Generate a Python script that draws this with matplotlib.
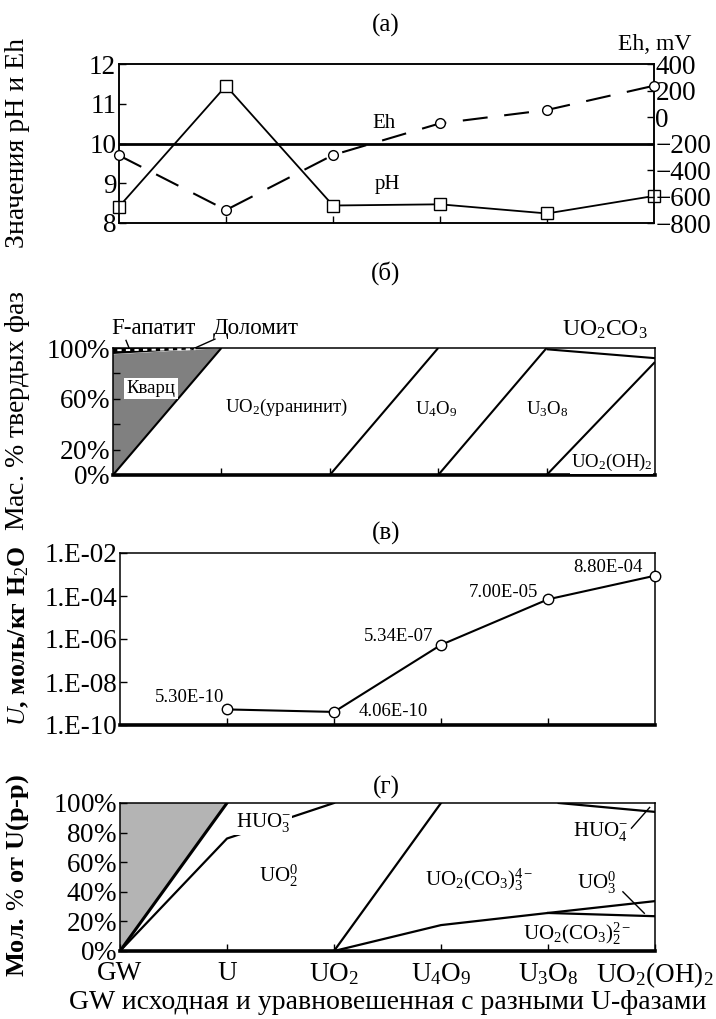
import matplotlib
matplotlib.use("Agg")
import matplotlib.pyplot as plt
import numpy as np

plt.rcParams['font.family'] = ['Liberation Serif', 'DejaVu Serif']
plt.rcParams['mathtext.fontset'] = 'custom'
plt.rcParams['mathtext.rm'] = 'Liberation Serif'
plt.rcParams['mathtext.it'] = 'Liberation Serif:italic'
plt.rcParams['mathtext.bf'] = 'Liberation Serif:bold'
plt.rcParams['axes.unicode_minus'] = True

# ---------------- data ----------------
categories = ['GW', 'U', 'UO$_2$', 'U$_4$O$_9$', 'U$_3$O$_8$', 'UO$_2$(OH)$_2$']
cat_x = [0, 1, 2, 3, 4, 5]

# panel (a)
ph_values = [8.41, 11.45, 8.44, 8.47, 8.24, 8.68]
eh_values = [-290, -702, -287, -48, 53, 236]
ph_ref = 10
ph_ticks = [8, 9, 10, 11, 12]
eh_ticks = [-800, -600, -400, -200, 0, 200, 400]

# panel (б) - solid phases, mass %
quartz_x = [0, 0, 0.94, 1.0]
quartz_y = [0, 95, 99.6, 100]
dolomite_x = [0, 0, 0.94]
dolomite_y = [95, 100, 100]
apatite_x = [0.04, 0.76]
apatite_y = [98.3, 99.0]
b_bounds = [
    ([0, 1], [0, 100]),
    ([2, 3], [0, 100]),
    ([3, 4], [0, 100]),
    ([4, 5], [0, 89]),
    ([4, 5], [99, 92]),
]
b_pct_ticks = [0, 20, 40, 60, 80, 100]
b_pct_labels = [0, 20, 60, 100]

# panel (в) - dissolved U
u_x = [1, 2, 3, 4, 5]
u_conc = [5.30e-10, 4.06e-10, 5.34e-07, 7.00e-05, 8.80e-04]
u_ticks = [1e-10, 1e-8, 1e-6, 1e-4, 1e-2]
u_tick_labels = ['1.E-10', '1.E-08', '1.E-06', '1.E-04', '1.E-02']

# panel (г) - aqueous species, mol %
grey_x = [0, 0, 1]
grey_y = [0, 100, 100]
g_thick = ([0, 1], [0, 100])
g_bounds = [
    ([0, 1, 2], [0, 76, 100]),
    ([2, 3], [0, 100]),
    ([2, 3, 4, 5], [0, 17.5, 25.7, 33.7]),
    ([4, 5], [25.7, 23.5]),
    ([4.1, 5], [100, 94]),
]
g_pct_ticks = [0, 20, 40, 60, 80, 100]

# ---------------- figure ----------------
W, H = 716, 1019
fig = plt.figure(figsize=(W / 100, H / 100), dpi=100)


def rect(l, t, r, b):
    return [l / W, 1 - b / H, (r - l) / W, (b - t) / H]


ax_a = fig.add_axes(rect(119, 64, 654, 223))
ax_b = fig.add_axes(rect(113, 348, 655, 475))
ax_c = fig.add_axes(rect(120, 553, 655, 725))
ax_d = fig.add_axes(rect(120, 803, 655, 951))

TICK_FS = 19.5
LAB_FS = 13.5
YLAB_FS = 20
TITLE_FS = 18
SPINE_LW = 1.1

for ax in (ax_a, ax_b, ax_c, ax_d):
    ax.set_xlim(0, 5)
    ax.set_xticks(cat_x[1:5])
    ax.tick_params(direction='in', length=5, width=1, labelsize=TICK_FS, pad=2)
    for s in ax.spines.values():
        s.set_linewidth(SPINE_LW)
    ax.tick_params(axis='x', labelbottom=False)


def pct_lbl(v):
    return f"{v}$\\it{{\\%}}$"

# ---- panel (a)
ax_a.plot(cat_x, ph_values, color='black', lw=1.3, marker='s', markersize=8,
          markerfacecolor='white', markeredgecolor='black', markeredgewidth=1, clip_on=False, zorder=4)
ax_a.axhline(ph_ref, color='black', lw=2.0, zorder=2)
ax_a.set_ylim(8, 12)
ax_a.set_yticks(ph_ticks)
ax_a.set_yticklabels([str(t) for t in ph_ticks])
ax_a2 = ax_a.twinx()
ax_a2.set_ylim(-800, 400)
ax_a2.plot(cat_x, eh_values, color='black', lw=1.5, dashes=(12, 8), marker='o', markersize=7,
           markerfacecolor='white', markeredgecolor='black', markeredgewidth=1, clip_on=False, zorder=4)
ax_a2.set_yticks(eh_ticks)
ax_a2.set_yticklabels([str(t).replace('-', '\u2212') for t in eh_ticks])
ax_a2.tick_params(direction='in', length=5, width=1, labelsize=TICK_FS, pad=1)
for s in ax_a2.spines.values():
    s.set_linewidth(SPINE_LW)
ax_a.text(2.48, 10.5, 'Eh', fontsize=15, ha='center', va='center')
ax_a.text(2.51, 8.97, 'pH', fontsize=15, ha='center', va='center')
fig.text(655 / W, 1 - 45 / H, 'Eh, mV', fontsize=17, ha='center', va='center')
fig.text(386 / W, 1 - 25 / H, '(a)', fontsize=TITLE_FS, ha='center', va='center')
fig.text(18 / W, 1 - 143 / H, 'Значения pH и Eh', fontsize=YLAB_FS, rotation=90,
         ha='center', va='center')

# ---- panel (б)
ax_b.set_ylim(0, 100)
ax_b.fill(quartz_x, quartz_y, color='#808080', lw=0, zorder=1)
ax_b.fill(dolomite_x, dolomite_y, color='black', lw=0, zorder=2)
ax_b.plot(apatite_x, apatite_y, color='white', lw=1.4, dashes=(2.2, 2.2), zorder=3)
for bx, by in b_bounds:
    ax_b.plot(bx, by, color='black', lw=1.5, zorder=3, solid_capstyle='butt')
ax_b.set_yticks(b_pct_ticks)
ax_b.set_yticklabels([pct_lbl(v) if v in b_pct_labels else '' for v in b_pct_ticks])
ax_b.spines['bottom'].set_linewidth(2.6)
ax_b.text(0.35, 68, 'Кварц', fontsize=LAB_FS, ha='center', va='center',
          bbox=dict(facecolor='white', edgecolor='none', pad=1.5), zorder=5)
ax_b.text(1.6, 53, 'UO$_2$(уранинит)', fontsize=LAB_FS, ha='center', va='center')
ax_b.text(2.98, 52, 'U$_4$O$_9$', fontsize=LAB_FS, ha='center', va='center')
ax_b.text(4.01, 52, 'U$_3$O$_8$', fontsize=LAB_FS, ha='center', va='center')
ax_b.text(4.6, 9.5, 'UO$_2$(OH)$_2$', fontsize=LAB_FS, ha='center', va='center',
          bbox=dict(facecolor='white', edgecolor='none', pad=0.5), zorder=5)
ax_b.text(0.37, 115, 'F-апатит', fontsize=16.5, ha='center', va='center', clip_on=False)
ax_b.text(1.32, 115, 'Доломит', fontsize=16.5, ha='center', va='center', clip_on=False)
ax_b.text(4.54, 114, 'UO$_2$CO$_3$', fontsize=17, ha='center', va='center', clip_on=False)
ax_b.plot([0.12, 0.16], [106, 97.5], color='black', lw=1, clip_on=False)
ax_b.plot([0.94, 0.73], [107, 99], color='black', lw=1, clip_on=False)
fig.text(386 / W, 1 - 273 / H, '(б)', fontsize=TITLE_FS, ha='center', va='center')
fig.text(18 / W, 1 - 411 / H, 'Мас. $\\it{\\%}$ твердых фаз', fontsize=YLAB_FS, rotation=90,
         ha='center', va='center')

# ---- panel (в)
ax_c.set_yscale('log')
ax_c.set_ylim(1e-10, 1e-2)
ax_c.plot(u_x, u_conc, color='black', lw=1.5, marker='o', markersize=7.5,
          markerfacecolor='white', markeredgecolor='black', markeredgewidth=1, clip_on=False, zorder=4)
ax_c.set_yticks(u_ticks)
ax_c.set_yticklabels(u_tick_labels)
ax_c.yaxis.set_minor_locator(matplotlib.ticker.NullLocator())
ax_c.spines['bottom'].set_linewidth(2.6)
c_label_pos = [(0.65, 10 ** -8.74), (2.55, 10 ** -9.38), (2.6, 10 ** -5.9),
               (3.58, 10 ** -3.84), (4.56, 10 ** -2.68)]
for v, (lx, ly) in zip(u_conc, c_label_pos):
    ax_c.text(lx, ly, f"{v:.2E}", fontsize=LAB_FS, ha='center', va='center')
fig.text(386 / W, 1 - 533 / H, '(в)', fontsize=TITLE_FS, ha='center', va='center')
fig.text(19 / W, 1 - 636 / H, '$\\it{U}$, моль/кг H$_2$O', fontsize=18.5, rotation=90,
         ha='center', va='center', fontweight='bold')

# ---- panel (г)
G_FS = 15
ax_d.set_ylim(0, 100)
ax_d.fill(grey_x, grey_y, color='#b4b4b4', lw=0, zorder=1)
ax_d.plot(g_thick[0], g_thick[1], color='black', lw=2.2, zorder=3)
for gx, gy in g_bounds:
    ax_d.plot(gx, gy, color='black', lw=1.6, zorder=3)
ax_d.set_yticks(g_pct_ticks)
ax_d.set_yticklabels([pct_lbl(v) for v in g_pct_ticks])
ax_d.spines['bottom'].set_linewidth(2.6)
ax_d.tick_params(axis='x', labelbottom=True, labelsize=TICK_FS, pad=7)
ax_d.set_xticks(cat_x)
ax_d.set_xticklabels(categories)
ax_d.set_xlabel('GW исходная и уравновешенная с разными U-фазами', fontsize=20, labelpad=0)
ax_d.text(1.34, 87, 'HUO$_3^{-}$', fontsize=G_FS, ha='center', va='center',
          bbox=dict(facecolor='white', edgecolor='none', pad=1.0), zorder=5)
ax_d.text(1.48, 51, 'UO$_2^0$', fontsize=G_FS, ha='center', va='center')
ax_d.text(3.36, 48, 'UO$_2$(CO$_3$)$_3^{4-}$', fontsize=G_FS, ha='center', va='center')
ax_d.text(4.45, 46, 'UO$_3^0$', fontsize=G_FS, ha='center', va='center')
ax_d.text(4.49, 81, 'HUO$_4^{-}$', fontsize=G_FS, ha='center', va='center')
ax_d.text(4.27, 12, 'UO$_2$(CO$_3$)$_2^{2-}$', fontsize=G_FS, ha='center', va='center')
ax_d.plot([4.78, 4.95], [83, 97], color='black', lw=1)
ax_d.plot([4.70, 4.90], [40, 25.5], color='black', lw=1)
fig.text(386 / W, 1 - 787 / H, '(г)', fontsize=TITLE_FS, ha='center', va='center')
fig.text(18 / W, 1 - 876 / H, 'Мол. $\\it{\\%}$ от U(р-р)', fontsize=19, rotation=90,
         ha='center', va='center', fontweight='bold')

fig.savefig('out.png', dpi=100)
